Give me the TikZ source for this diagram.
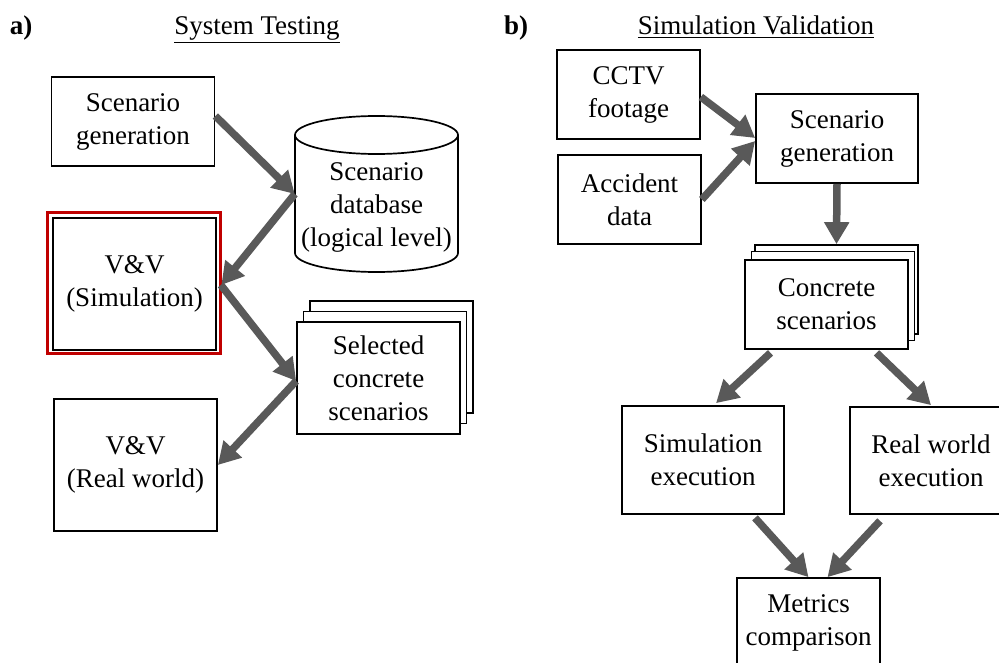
\documentclass[tikz,border=0pt]{standalone}
\usepackage{fontspec}
\setmainfont{Liberation Serif}
\usetikzlibrary{arrows.meta,calc}
\definecolor{arrgray}{HTML}{595959}
\definecolor{redbox}{HTML}{C00000}
\begin{document}
\begin{tikzpicture}[x=1pt,y=-1pt,
  every node/.style={font=\fontsize{27}{33}\selectfont},
  box/.style={draw, line width=1.7pt, fill=white, align=center, inner sep=0pt},
  arr/.style={draw=arrgray, line width=7.5pt, -{Triangle[length=22pt,width=24pt]}},
  titletext/.style={anchor=base},
]
\useasboundingbox (0,0) rectangle (999,663);

% ---------- panel a ----------
\node[titletext, font=\fontsize{27}{33}\selectfont\bfseries] (la) at (21,35) {a)};
\node[titletext] (ta) at (257,35) {\underline{System Testing}};

\node[box, minimum width=163pt, minimum height=89pt] (sg) at (133,121.5) {Scenario\\generation};

% cylinder
\draw[line width=1.7pt] (295,135) -- (295,253) arc[start angle=180, end angle=0, x radius=81.5, y radius=19] -- (458,135);
\draw[line width=1.7pt] (376.5,135) ellipse [x radius=81.5, y radius=19];
\node[inner sep=0pt, minimum width=163pt, minimum height=156pt] (db) at (376.5,194) {};
\node[align=center, inner sep=0pt] (dbt) at (376.5,207) {Scenario\\database\\(logical level)};

\node[box, minimum width=163pt, minimum height=132pt] (vsim) at (134.5,284) {V\&V\\(Simulation)};
\draw[redbox, line width=3pt] ($(vsim.north west)+(-4.5,-4.5)$) rectangle ($(vsim.south east)+(3.5,2.5)$);

\node[box, minimum width=163pt, minimum height=112pt] (sel3) at (391.5,357) {};
\node[box, minimum width=163pt, minimum height=112pt] (sel2) at (385,367.5) {};
\node[box, minimum width=163pt, minimum height=112pt] (sel) at (378.5,378) {Selected\\concrete\\scenarios};

\node[box, minimum width=163pt, minimum height=132pt] (vrw) at (135.5,465) {V\&V\\(Real world)};

\draw[arr] ($(sg.east)+(0,-5.5)$) -- (db.west);
\draw[arr] (db.west) -- ($(vsim.east)+(4.5,1)$);
\draw[arr] ($(vsim.east)+(4,1)$) -- ($(sel.west)+(0,3)$);
\draw[arr] ($(sel.west)+(0,3)$) -- (vrw.east);

% ---------- panel b ----------
\node[titletext, font=\fontsize{27}{33}\selectfont\bfseries] (lb) at (516,35) {b)};
\node[titletext] (tb) at (756,35) {\underline{Simulation Validation}};

\node[box, minimum width=143pt, minimum height=89pt] (cctv) at (628.5,94.5) {CCTV\\footage};
\node[box, minimum width=143pt, minimum height=89pt] (acc) at (629.5,199.5) {Accident\\data};
\node[box, minimum width=162pt, minimum height=89pt] (sg2) at (837,138.5) {Scenario\\generation};

\node[box, minimum width=163pt, minimum height=89pt] (cs3) at (836.5,289.5) {};
\node[box, minimum width=163pt, minimum height=89pt] (cs2) at (833,296) {};
\node[box, minimum width=163pt, minimum height=89pt] (cs) at (826.5,304.5) {Concrete\\scenarios};

\node[box, minimum width=162pt, minimum height=108pt] (se) at (703,460) {Simulation\\execution};
\node[box, minimum width=162pt, minimum height=107pt] (re) at (931,460.5) {Real world\\execution};
\node[box, minimum width=143pt, minimum height=89pt] (mc) at (808.5,622.5) {Metrics\\comparison};

\draw[arr] ($(cctv.east)+(0,2.5)$) -- ($(sg2.west)+(0,-0.5)$);
\draw[arr] (acc.east) -- ($(sg2.west)+(0,2.5)$);
\draw[arr] (sg2.south) -- (cs3.north);
\draw[arr] ($(cs.south)+(-56,3)$) -- ($(se.north)+(13,-2)$);
\draw[arr] ($(cs.south)+(50,3)$) -- ($(re.north)+(0,-1)$);
\draw[arr] ($(se.south)+(52,3)$) -- (mc.north);
\draw[arr] ($(re.south)+(-51,6)$) -- ($(mc.north)+(19,0)$);
\end{tikzpicture}
\end{document}
